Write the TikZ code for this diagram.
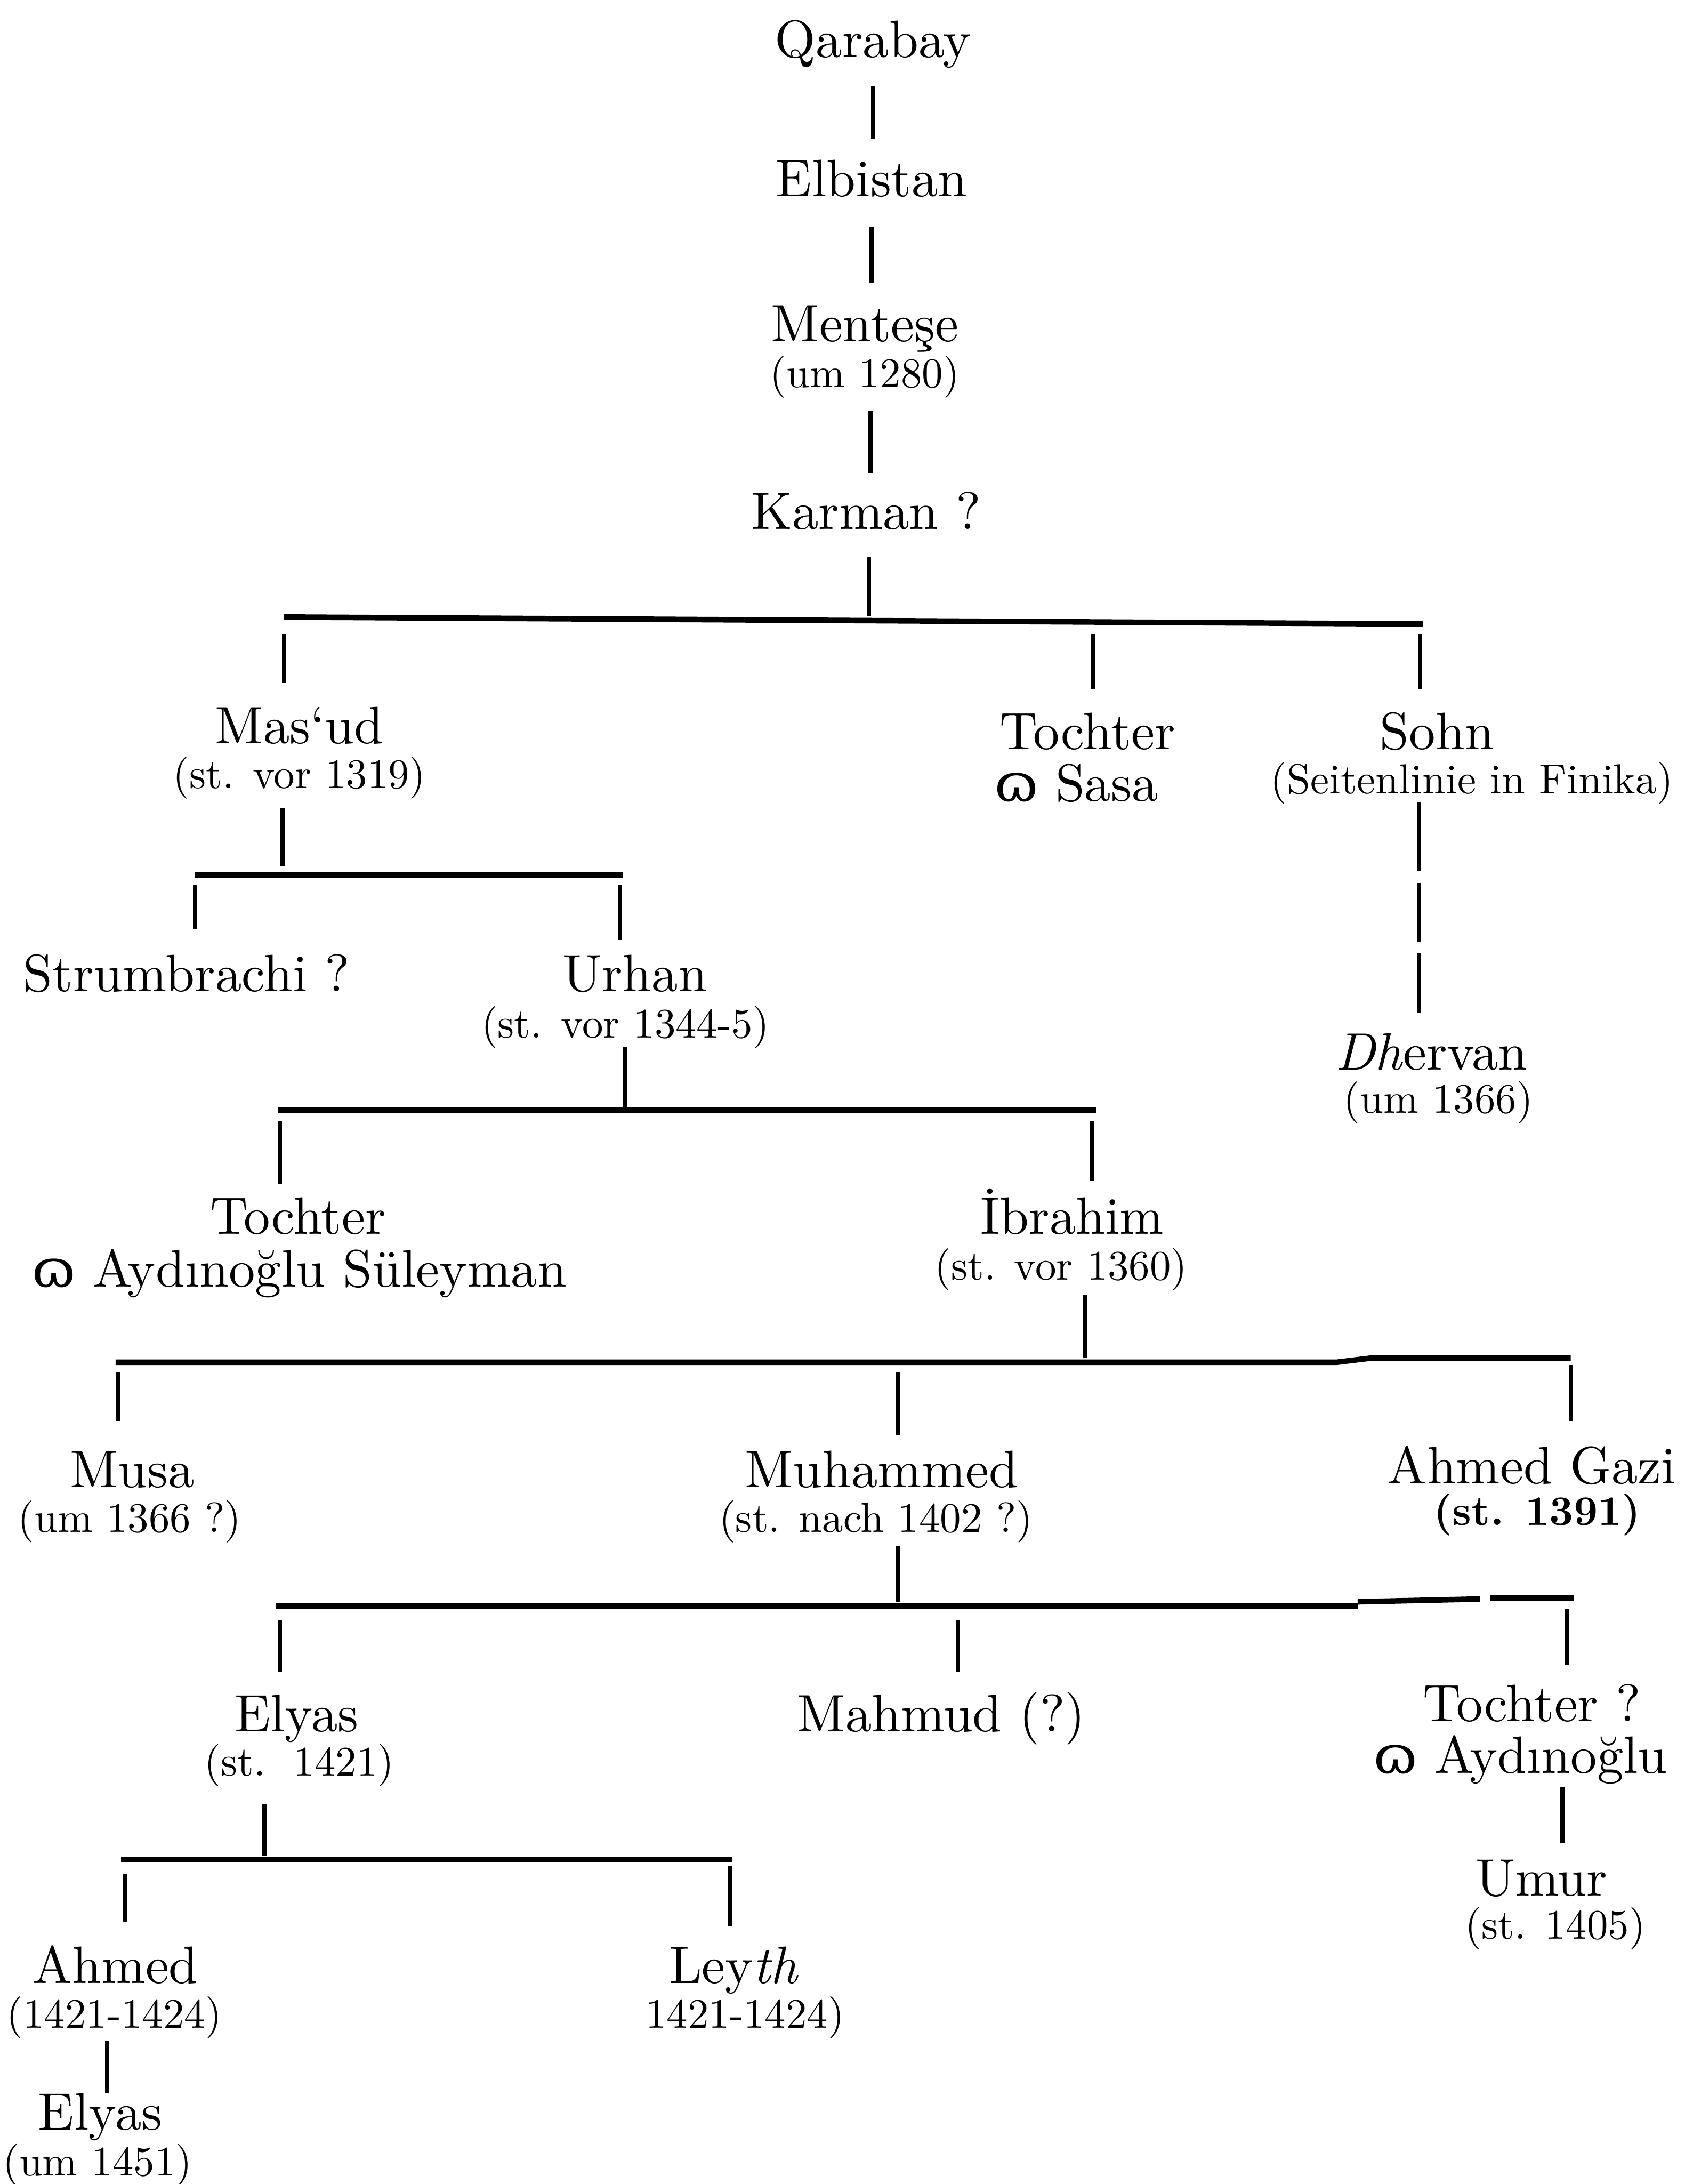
\documentclass[tikz,border=0pt]{standalone}
\usepackage{fontspec}
\setmainfont{lmroman10-regular.otf}[BoldFont=lmroman10-bold.otf, ItalicFont=lmroman10-italic.otf]
\newfontfamily\symfont{DejaVu Serif}
\newcommand{\mar}{{\symfont ɷ}}
\tikzset{
  nm/.style={anchor=base, inner sep=0pt, font=\fontsize{18.9}{21}\selectfont},
  dt/.style={anchor=base, inner sep=0pt, font=\fontsize{15.1}{17}\selectfont},
  stem/.style={line width=1.5pt},
  bar/.style={line width=2pt},
}
\begin{document}
\begin{tikzpicture}[x=0.5pt,y=-0.5pt]
\useasboundingbox (0,0) rectangle (1210,1568);
% ---------- names ----------
\node[nm] (qarabay) at (627,41) {Qarabay};
\node[nm] (elbistan) at (626,141) {Elbistan};
\node[nm] (mentese) at (621,245) {Menteşe};
\node[dt] (mentesed) at (621,278) {(um 1280)};
\node[nm] (karman) at (622,380) {Karman ?};
\node[nm] (masud) at (215,534) {Mas‘ud};
\node[dt] (masudd) at (215,566) {(st. vor 1319)};
\node[nm] (tochter1) at (781,538) {Tochter};
\node[nm] (sasa) at (773,575) {\mar\ Sasa};
\node[nm] (sohn) at (1032,538) {Sohn};
\node[dt] (sohnd) at (1057,570) {(Seitenlinie in Finika)};
\node[nm] (strum) at (134,712) {Strumbrachi ?};
\node[nm] (urhan) at (456,712) {Urhan};
\node[dt] (urhand) at (449,745) {(st. vor 1344-5)};
\node[nm] (dhervan) at (1028,768) {\textit{Dh}ervan};
\node[dt] (dhervand) at (1033,799) {(um 1366)};
\node[nm] (tochter2) at (214,886) {Tochter};
\node[nm] (suleyman) at (215,924) {\mar\ Aydınoğlu Süleyman};
\node[nm] (ibrahim) at (770,886) {İbrahim};
\node[dt] (ibrahimd) at (762,919) {(st. vor 1360)};
\node[nm] (musa) at (95,1068) {Musa};
\node[dt] (musad) at (93,1100) {(um 1366 ?)};
\node[nm] (muhammed) at (633,1068) {Muhammed};
\node[dt] (muhammedd) at (629,1100) {(st. nach 1402 ?)};
\node[nm] (ahmedgazi) at (1100,1065) {Ahmed Gazi};
\node[dt] (ahmedgazid) at (1104,1095) {\bfseries (st. 1391)};
\node[nm] (elyas1) at (213,1243) {Elyas};
\node[dt] (elyas1d) at (215,1275) {(st.\ \ 1421)};
\node[nm] (mahmud) at (676,1243) {Mahmud (?)};
\node[nm] (tochter3) at (1100,1236) {Tochter ?};
\node[nm] (aydin) at (1092,1273) {\mar\ Aydınoğlu};
\node[nm] (umur) at (1107,1361) {Umur};
\node[dt] (umurd) at (1117,1392) {(st. 1405)};
\node[nm] (ahmed) at (83,1424) {Ahmed};
\node[dt] (ahmedd) at (82,1456) {(1421-1424)};
\node[nm] (leyth) at (527,1424) {Ley\textit{th}};
\node[dt] (leythd) at (535,1456) {1421-1424)};
\node[nm] (elyas2) at (72,1529) {Elyas};
\node[dt] (elyas2d) at (70,1562) {(um 1451)};
% ---------- coordinates ----------
\coordinate (a1) at (627,62);  \coordinate (a2) at (627,100);
\coordinate (b1) at (626,163); \coordinate (b2) at (626,203);
\coordinate (c1) at (625,295); \coordinate (c2) at (625,340);
\coordinate (d1) at (624,400); \coordinate (d2) at (624,442);
\coordinate (B1l) at (204,443); \coordinate (B1r) at (1022,448);
\coordinate (e1) at (204,455); \coordinate (e2) at (204,490);
\coordinate (f1) at (785,455); \coordinate (f2) at (785,495);
\coordinate (g1) at (1020,455); \coordinate (g2) at (1020,495);
\coordinate (h1) at (203,580); \coordinate (h2) at (203,622);
\coordinate (B2l) at (140,628); \coordinate (B2r) at (447,628);
\coordinate (i1) at (140,635); \coordinate (i2) at (140,667);
\coordinate (j1) at (445,635); \coordinate (j2) at (445,675);
\coordinate (k1) at (1019,576); \coordinate (k2) at (1019,625);
\coordinate (k3) at (1019,634); \coordinate (k4) at (1019,676);
\coordinate (k5) at (1019,684); \coordinate (k6) at (1019,727);
\coordinate (l1) at (449,752); \coordinate (l2) at (449,795);
\coordinate (B3l) at (200,797); \coordinate (B3r) at (787,797);
\coordinate (m1) at (201,805); \coordinate (m2) at (201,850);
\coordinate (n1) at (784,805); \coordinate (n2) at (784,848);
\coordinate (o1) at (779,930); \coordinate (o2) at (779,975);
\coordinate (B4l) at (83,978); \coordinate (B4m) at (960,978);
\coordinate (B4n) at (985,975); \coordinate (B4r) at (1128,975);
\coordinate (p1) at (85,985);  \coordinate (p2) at (85,1020);
\coordinate (q1) at (645,985); \coordinate (q2) at (645,1030);
\coordinate (r1) at (1128,980); \coordinate (r2) at (1128,1020);
\coordinate (s1) at (645,1110); \coordinate (s2) at (645,1150);
\coordinate (B5l) at (198,1153); \coordinate (B5m) at (975,1153);
\coordinate (B5n) at (975,1150); \coordinate (B5o) at (1063,1148);
\coordinate (B5p) at (1070,1147); \coordinate (B5r) at (1130,1147);
\coordinate (t1) at (201,1163); \coordinate (t2) at (201,1200);
\coordinate (u1) at (688,1163); \coordinate (u2) at (688,1200);
\coordinate (v1) at (1125,1155); \coordinate (v2) at (1125,1195);
\coordinate (w1) at (190,1295); \coordinate (w2) at (190,1332);
\coordinate (B6l) at (87,1335); \coordinate (B6r) at (526,1335);
\coordinate (x1) at (90,1345); \coordinate (x2) at (90,1380);
\coordinate (y1) at (524,1340); \coordinate (y2) at (524,1383);
\coordinate (z1) at (1122,1283); \coordinate (z2) at (1122,1323);
\coordinate (zz1) at (77,1465); \coordinate (zz2) at (77,1503);
% ---------- connectors ----------
\draw[stem] (a1) -- (a2);
\draw[stem] (b1) -- (b2);
\draw[stem] (c1) -- (c2);
\draw[stem] (d1) -- (d2);
\draw[bar] (B1l) -- (B1r);
\draw[stem] (e1) -- (e2);
\draw[stem] (f1) -- (f2);
\draw[stem] (g1) -- (g2);
\draw[stem] (h1) -- (h2);
\draw[bar] (B2l) -- (B2r);
\draw[stem] (i1) -- (i2);
\draw[stem] (j1) -- (j2);
\draw[stem] (k1) -- (k2);
\draw[stem] (k3) -- (k4);
\draw[stem] (k5) -- (k6);
\draw[stem] (l1) -- (l2);
\draw[bar] (B3l) -- (B3r);
\draw[stem] (m1) -- (m2);
\draw[stem] (n1) -- (n2);
\draw[stem] (o1) -- (o2);
\draw[bar] (B4l) -- (B4m) -- (B4n) -- (B4r);
\draw[stem] (p1) -- (p2);
\draw[stem] (q1) -- (q2);
\draw[stem] (r1) -- (r2);
\draw[stem] (s1) -- (s2);
\draw[bar] (B5l) -- (B5m);
\draw[bar] (B5n) -- (B5o);
\draw[bar] (B5p) -- (B5r);
\draw[stem] (t1) -- (t2);
\draw[stem] (u1) -- (u2);
\draw[stem] (v1) -- (v2);
\draw[stem] (w1) -- (w2);
\draw[bar] (B6l) -- (B6r);
\draw[stem] (x1) -- (x2);
\draw[stem] (y1) -- (y2);
\draw[stem] (z1) -- (z2);
\draw[stem] (zz1) -- (zz2);
\end{tikzpicture}
\end{document}
